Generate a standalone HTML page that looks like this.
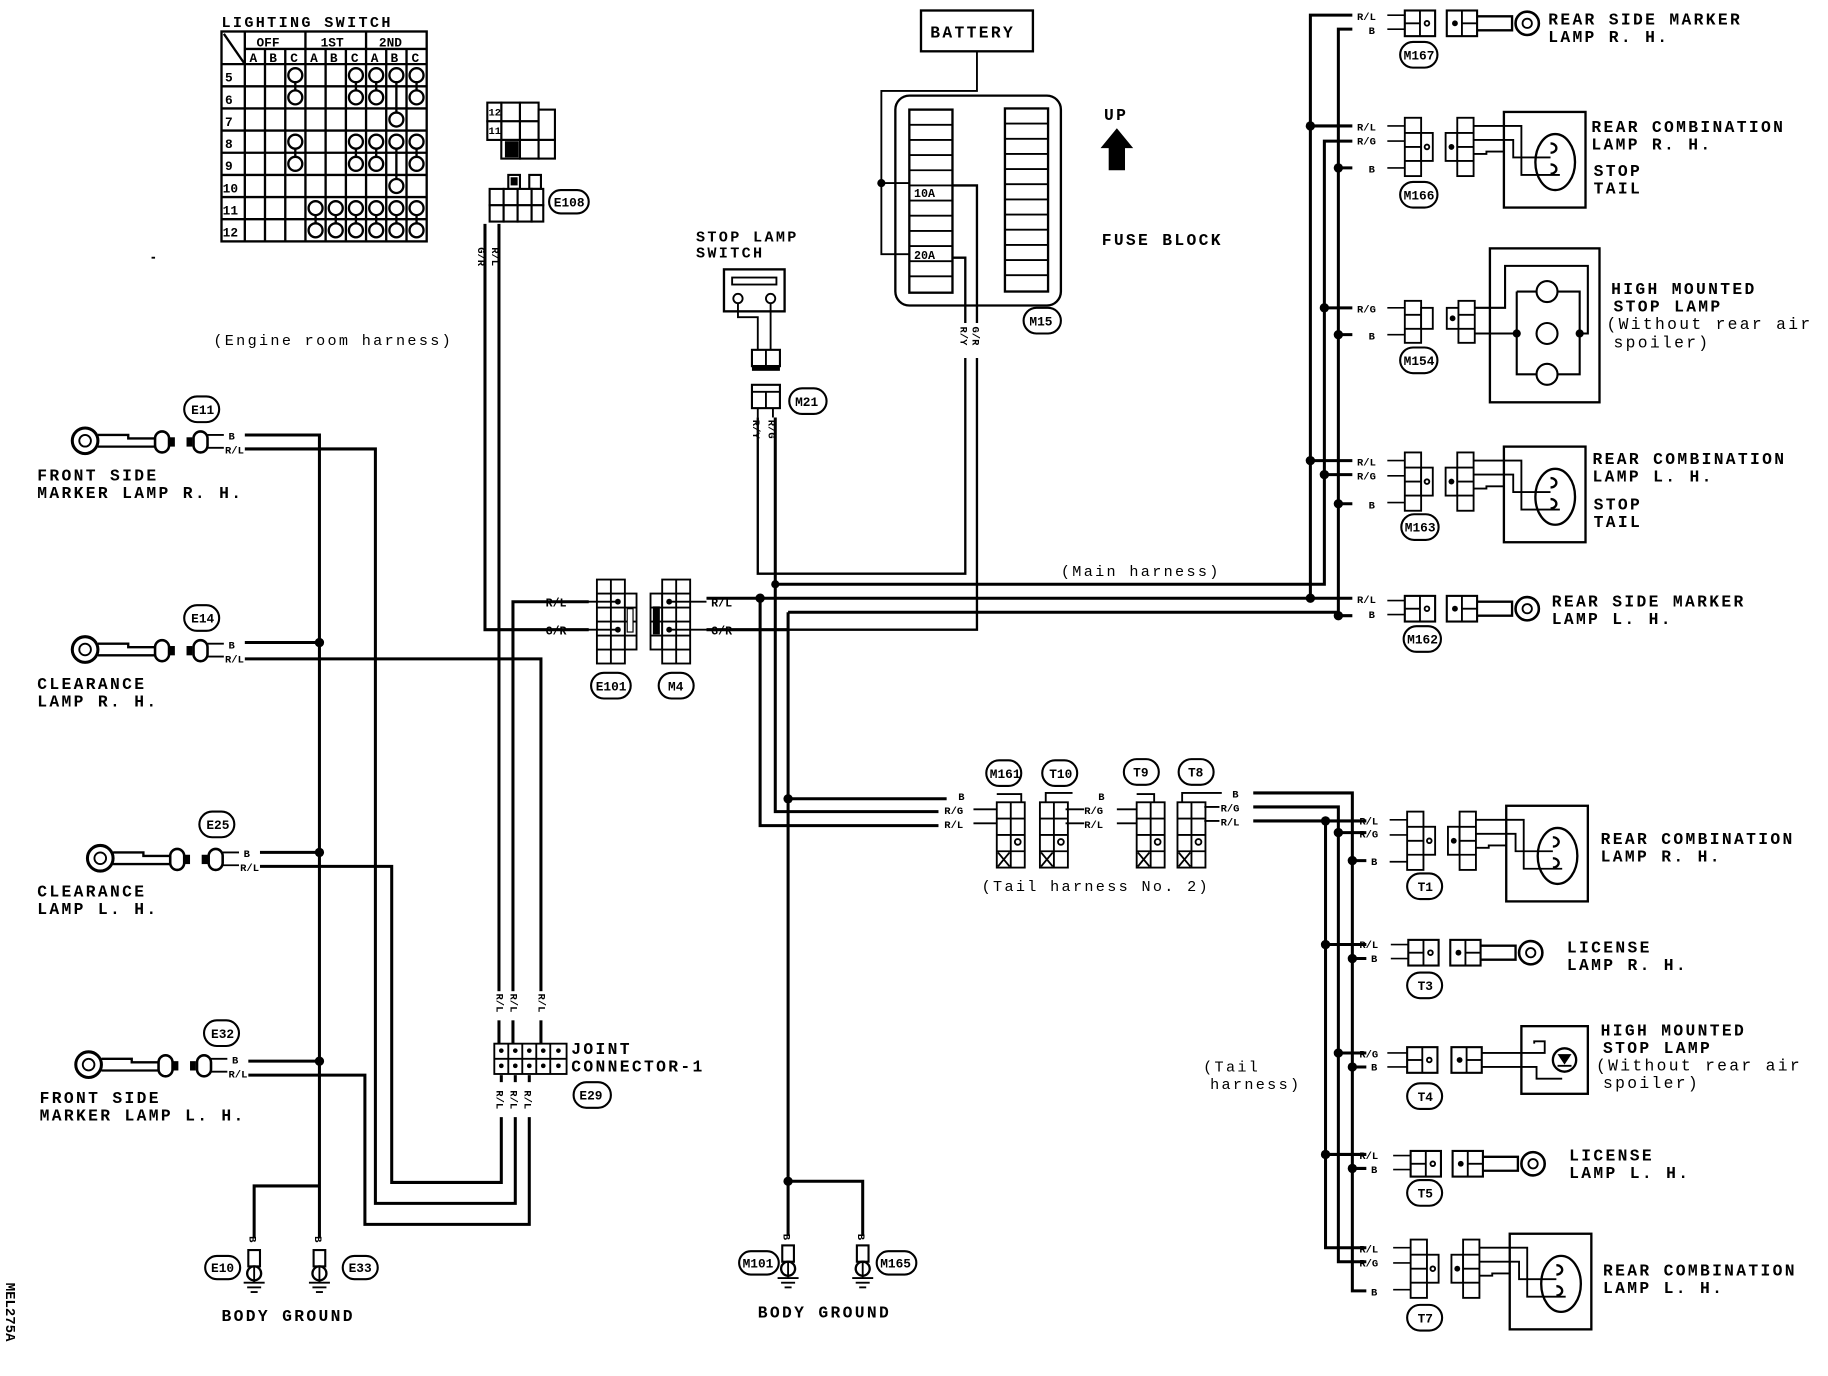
<!DOCTYPE html>
<html><head><meta charset="utf-8"><style>
html,body{margin:0;padding:0;background:#fff}
svg{display:block}
text{font-family:"Liberation Mono",monospace;fill:#000}
.w{stroke:#000;stroke-width:2.6;fill:none}
.t{stroke:#000;stroke-width:1.6;fill:none}
.f{fill:#fff;stroke:#000;stroke-width:1.8}
.L{font-size:15px;letter-spacing:2px;font-weight:bold}
.s{font-size:9px;font-weight:bold}
.g{font-size:11px;font-weight:bold}
</style></head><body>
<svg width="1828" height="1376" viewBox="0 0 1568 1180" preserveAspectRatio="none" xmlns="http://www.w3.org/2000/svg">
<rect width="1568" height="1180" fill="#fff"/>

<!-- LIGHTING SWITCH -->
<text x="190" y="23" class="L" style="font-size:13px">LIGHTING SWITCH</text>
<g class="w" style="stroke-width:2">
<rect x="190" y="27" width="176" height="180"/>
<line x1="210" y1="27" x2="210" y2="207"/>
<line x1="210" y1="42" x2="366" y2="42"/>
<line x1="190" y1="55" x2="366" y2="55"/>
<line x1="192" y1="29" x2="210" y2="55"/>
<line x1="262" y1="27" x2="262" y2="207"/><line x1="314" y1="27" x2="314" y2="207"/>
<line x1="227.3" y1="42" x2="227.3" y2="207"/><line x1="244.7" y1="42" x2="244.7" y2="207"/>
<line x1="279.3" y1="42" x2="279.3" y2="207"/><line x1="296.7" y1="42" x2="296.7" y2="207"/>
<line x1="331.3" y1="42" x2="331.3" y2="207"/><line x1="348.7" y1="42" x2="348.7" y2="207"/>
<line x1="190" y1="74" x2="366" y2="74"/><line x1="190" y1="93" x2="366" y2="93"/>
<line x1="190" y1="112" x2="366" y2="112"/><line x1="190" y1="131" x2="366" y2="131"/>
<line x1="190" y1="150" x2="366" y2="150"/><line x1="190" y1="169" x2="366" y2="169"/>
<line x1="190" y1="188" x2="366" y2="188"/>
</g>
<g class="s" style="font-size:11px">
<text x="220" y="40">OFF</text><text x="275" y="40">1ST</text><text x="325" y="40">2ND</text>
<text x="214" y="53">A</text><text x="231" y="53">B</text><text x="249" y="53">C</text><text x="266" y="53">A</text><text x="283" y="53">B</text><text x="301" y="53">C</text><text x="318" y="53">A</text><text x="335" y="53">B</text><text x="353" y="53">C</text>
<text x="193" y="70">5</text><text x="193" y="89">6</text><text x="193" y="108">7</text><text x="193" y="127">8</text><text x="193" y="146">9</text><text x="191" y="165">10</text><text x="191" y="184">11</text><text x="191" y="203">12</text>
</g>
<g class="w" style="stroke-width:2">
<line x1="253.3" y1="64" x2="253.3" y2="84"/><line x1="305.3" y1="64" x2="305.3" y2="84"/><line x1="322.7" y1="64" x2="322.7" y2="84"/><line x1="357.3" y1="64" x2="357.3" y2="84"/><line x1="340" y1="64" x2="340" y2="102"/>
<line x1="253.3" y1="121" x2="253.3" y2="141"/><line x1="305.3" y1="121" x2="305.3" y2="141"/><line x1="322.7" y1="121" x2="322.7" y2="141"/><line x1="357.3" y1="121" x2="357.3" y2="141"/><line x1="340" y1="121" x2="340" y2="159"/>
<line x1="270.7" y1="178" x2="270.7" y2="198"/><line x1="288" y1="178" x2="288" y2="198"/><line x1="305.3" y1="178" x2="305.3" y2="198"/><line x1="322.7" y1="178" x2="322.7" y2="198"/><line x1="340" y1="178" x2="340" y2="198"/><line x1="357.3" y1="178" x2="357.3" y2="198"/>
</g>
<g class="f" style="stroke-width:2">
<circle cx="253.3" cy="64.5" r="6"/><circle cx="305.3" cy="64.5" r="6"/><circle cx="322.7" cy="64.5" r="6"/><circle cx="340" cy="64.5" r="6"/><circle cx="357.3" cy="64.5" r="6"/>
<circle cx="253.3" cy="83.5" r="6"/><circle cx="305.3" cy="83.5" r="6"/><circle cx="322.7" cy="83.5" r="6"/><circle cx="357.3" cy="83.5" r="6"/>
<circle cx="340" cy="102.5" r="6"/>
<circle cx="253.3" cy="121.5" r="6"/><circle cx="305.3" cy="121.5" r="6"/><circle cx="322.7" cy="121.5" r="6"/><circle cx="340" cy="121.5" r="6"/><circle cx="357.3" cy="121.5" r="6"/>
<circle cx="253.3" cy="140.5" r="6"/><circle cx="305.3" cy="140.5" r="6"/><circle cx="322.7" cy="140.5" r="6"/><circle cx="357.3" cy="140.5" r="6"/>
<circle cx="340" cy="159.5" r="6"/>
<circle cx="270.7" cy="178.5" r="6"/><circle cx="288" cy="178.5" r="6"/><circle cx="305.3" cy="178.5" r="6"/><circle cx="322.7" cy="178.5" r="6"/><circle cx="340" cy="178.5" r="6"/><circle cx="357.3" cy="178.5" r="6"/>
<circle cx="270.7" cy="197.5" r="6"/><circle cx="288" cy="197.5" r="6"/><circle cx="305.3" cy="197.5" r="6"/><circle cx="322.7" cy="197.5" r="6"/><circle cx="340" cy="197.5" r="6"/><circle cx="357.3" cy="197.5" r="6"/>
</g>
<line x1="130" y1="221" x2="133" y2="221" class="t"/>

<!-- E108 connectors -->
<g class="f">
<rect x="430" y="88" width="16" height="16"/><rect x="446" y="88" width="16" height="16"/>
<rect x="430" y="104" width="16" height="16"/><rect x="446" y="104" width="16" height="16"/><rect x="462" y="94" width="14" height="26"/>
<rect x="430" y="120" width="16" height="16"/><rect x="446" y="120" width="16" height="16"/><rect x="462" y="120" width="14" height="16"/>
<rect x="418" y="88" width="12" height="16"/><rect x="418" y="104" width="12" height="16"/>
<rect x="434" y="122" width="10" height="12" style="fill:#000"/>
<rect x="436" y="150" width="10" height="12"/><rect x="454" y="150" width="10" height="12"/>
<rect x="420" y="162" width="12" height="14"/><rect x="432" y="162" width="12" height="14"/><rect x="444" y="162" width="12" height="14"/><rect x="456" y="162" width="10" height="14"/>
<rect x="420" y="176" width="12" height="14"/><rect x="432" y="176" width="12" height="14"/><rect x="444" y="176" width="12" height="14"/><rect x="456" y="176" width="10" height="14"/>
</g>
<rect x="438" y="152" width="6" height="7" fill="#000"/>
<text x="419" y="99" class="s">12</text><text x="419" y="115" class="s">11</text>
<rect x="471" y="163" width="34" height="20" rx="10" class="f"/><text x="475" y="177" class="g">E108</text>
<text class="s" transform="translate(410,212) rotate(90)">G/R</text>
<text class="s" transform="translate(422,212) rotate(90)">R/L</text>

<text x="183" y="296" class="L" style="font-size:13px;font-weight:normal">(Engine room harness)</text>

<!-- Left lamps -->
<g id="lamp1">
<circle cx="73" cy="378" r="11" class="w"/><circle cx="73" cy="378" r="5" class="t"/>
<path d="M84 373 H110 V376 H135 V383 H84" class="w" style="stroke-width:2"/>
<rect x="133" y="370" width="12" height="18" rx="6" class="f" style="stroke-width:2.2"/><rect x="145" y="375" width="5" height="8" fill="#000"/>
<rect x="160" y="375" width="5" height="8" fill="#000"/><rect x="166" y="370" width="12" height="18" rx="6" class="f" style="stroke-width:2.2"/>
<line x1="178" y1="373" x2="192" y2="373" class="t"/><line x1="178" y1="384" x2="192" y2="384" class="t"/>
<text x="196" y="377" class="s">B</text><text x="193" y="389" class="s">R/L</text>
</g>
<use href="#lamp1" y="179"/>
<use href="#lamp1" x="13" y="358"/>
<use href="#lamp1" x="3" y="535"/>
<rect x="158" y="340" width="30" height="22" rx="11" class="f"/><text x="164" y="355" class="g">E11</text>
<rect x="158" y="519" width="30" height="22" rx="11" class="f"/><text x="164" y="534" class="g">E14</text>
<rect x="171" y="696" width="30" height="22" rx="11" class="f"/><text x="177" y="711" class="g">E25</text>
<rect x="175" y="875" width="30" height="22" rx="11" class="f"/><text x="181" y="890" class="g">E32</text>
<g class="L" style="font-size:14px">
<text x="32" y="412">FRONT SIDE</text><text x="32" y="427">MARKER LAMP R. H.</text>
<text x="32" y="591">CLEARANCE</text><text x="32" y="606">LAMP R. H.</text>
<text x="32" y="769">CLEARANCE</text><text x="32" y="784">LAMP L. H.</text>
<text x="34" y="946">FRONT SIDE</text><text x="34" y="961">MARKER LAMP L. H.</text>
</g>

<!-- Left wiring -->
<g class="w">
<path d="M210 373 H274 V1062"/>
<path d="M210 551 H274"/><path d="M223 731 H274"/><path d="M213 910 H274"/>
<path d="M274 1017 H218 V1062"/>
<path d="M210 385 H322 V1032 H442 V922"/>
<path d="M210 565 H464 V895"/>
<path d="M223 743 H336 V1014 H430 V922"/>
<path d="M213 922 H313 V1050 H454 V922"/>
<path d="M416 192 V540 H505"/>
<path d="M428 192 V895"/>
<path d="M505 516 H440 V895"/>
</g>
<g fill="#000"><circle cx="274" cy="551" r="4"/><circle cx="274" cy="731" r="4"/><circle cx="274" cy="910" r="4"/></g>

<!-- grounds left -->
<g id="gnd1">
<rect x="213" y="1072" width="10" height="14" class="f"/>
<circle cx="218" cy="1092" r="6" class="w" style="stroke-width:2"/>
<line x1="218" y1="1086" x2="218" y2="1100" class="t"/>
<line x1="209" y1="1100" x2="227" y2="1100" class="t"/><line x1="212" y1="1104" x2="224" y2="1104" class="t"/><line x1="215" y1="1108" x2="221" y2="1108" class="t"/>
</g>
<use href="#gnd1" x="56"/>
<text class="s" transform="translate(214,1060) rotate(90)">B</text>
<text class="s" transform="translate(270,1060) rotate(90)">B</text>
<rect x="176" y="1077" width="30" height="20" rx="10" class="f"/><text x="181" y="1091" class="g">E10</text>
<rect x="294" y="1077" width="30" height="20" rx="10" class="f"/><text x="299" y="1091" class="g">E33</text>
<text x="190" y="1133" class="L" style="font-size:14px">BODY GROUND</text>

<!-- Joint connector -->
<g class="f" style="stroke-width:1.6">
<rect x="424" y="895" width="62" height="26"/>
</g>
<g class="t">
<line x1="424" y1="908" x2="486" y2="908"/>
<line x1="436" y1="895" x2="436" y2="921"/><line x1="448" y1="895" x2="448" y2="921"/><line x1="460" y1="895" x2="460" y2="921"/><line x1="472" y1="895" x2="472" y2="921"/>
</g>
<g fill="#000">
<circle cx="430" cy="901" r="2"/><circle cx="442" cy="901" r="2"/><circle cx="454" cy="901" r="2"/><circle cx="466" cy="901" r="2"/><circle cx="479" cy="901" r="2"/>
<circle cx="430" cy="914" r="2"/><circle cx="442" cy="914" r="2"/><circle cx="454" cy="914" r="2"/><circle cx="466" cy="914" r="2"/><circle cx="479" cy="914" r="2"/>
</g>
<rect x="424" y="850" width="36" height="25" fill="#fff"/><rect x="460" y="850" width="12" height="25" fill="#fff"/>
<rect x="424" y="928" width="36" height="30" fill="#fff"/>
<text class="s" transform="translate(426,852) rotate(90)">R/L</text><text class="s" transform="translate(438,852) rotate(90)">R/L</text><text class="s" transform="translate(462,852) rotate(90)">R/L</text>
<text class="s" transform="translate(426,935) rotate(90)">R/L</text><text class="s" transform="translate(438,935) rotate(90)">R/L</text><text class="s" transform="translate(450,935) rotate(90)">R/L</text>
<text x="490" y="904" class="L" style="font-size:14px">JOINT</text><text x="490" y="919" class="L" style="font-size:14px">CONNECTOR-1</text>
<rect x="492" y="928" width="32" height="22" rx="11" class="f"/><text x="497" y="943" class="g">E29</text>

<!-- E101 / M4 -->
<g class="f" style="stroke-width:1.6">
<rect x="512" y="497" width="24" height="72"/><rect x="536" y="509" width="10" height="48"/>
<rect x="558" y="509" width="10" height="48"/><rect x="568" y="497" width="24" height="72"/>
</g>
<g class="t">
<line x1="524" y1="497" x2="524" y2="569"/><line x1="512" y1="509" x2="536" y2="509"/><line x1="512" y1="521" x2="546" y2="521"/><line x1="512" y1="533" x2="546" y2="533"/><line x1="512" y1="545" x2="546" y2="545"/><line x1="512" y1="557" x2="536" y2="557"/>
<line x1="580" y1="497" x2="580" y2="569"/><line x1="558" y1="521" x2="592" y2="521"/><line x1="558" y1="533" x2="592" y2="533"/><line x1="558" y1="545" x2="592" y2="545"/><line x1="568" y1="509" x2="592" y2="509"/><line x1="568" y1="557" x2="592" y2="557"/>
</g>
<rect x="538" y="522" width="5" height="20" fill="#fff" stroke="#000"/><rect x="560" y="520" width="6" height="24" fill="#000"/>
<g fill="#000"><circle cx="530" cy="516" r="2.5"/><circle cx="530" cy="540" r="2.5"/><circle cx="574" cy="516" r="2.5"/><circle cx="574" cy="540" r="2.5"/></g>
<g class="t"><line x1="500" y1="516" x2="530" y2="516"/><line x1="500" y1="540" x2="530" y2="540"/><line x1="574" y1="516" x2="606" y2="516"/><line x1="574" y1="540" x2="606" y2="540"/></g>
<text x="468" y="520" class="s" style="font-size:10px">R/L</text><text x="468" y="544" class="s" style="font-size:10px">G/R</text>
<text x="610" y="520" class="s" style="font-size:10px">R/L</text><text x="610" y="544" class="s" style="font-size:10px">G/R</text>
<rect x="507" y="577" width="34" height="22" rx="11" class="f"/><text x="511" y="592" class="g">E101</text>
<rect x="565" y="577" width="30" height="22" rx="11" class="f"/><text x="573" y="592" class="g">M4</text>

<!-- Stop lamp switch -->
<text x="597" y="207" class="L" style="font-size:13px">STOP LAMP</text><text x="597" y="221" class="L" style="font-size:13px">SWITCH</text>
<rect x="621" y="231" width="52" height="36" class="w" style="stroke-width:2"/>
<rect x="628" y="238" width="38" height="6" class="t"/>
<circle cx="633" cy="256" r="4" class="t"/><circle cx="661" cy="256" r="4" class="t"/>
<path d="M633 260 V272 H650 V300 M661 260 V300" class="t"/>
<rect x="645" y="300" width="24" height="14" class="f"/><line x1="657" y1="300" x2="657" y2="314" class="t"/><rect x="645" y="313" width="24" height="5" fill="#000"/>
<rect x="645" y="330" width="24" height="20" class="f"/><line x1="645" y1="336" x2="669" y2="336" class="t"/><line x1="657" y1="336" x2="657" y2="350" class="t"/>
<line x1="650" y1="350" x2="650" y2="358" class="t"/><line x1="663" y1="350" x2="663" y2="358" class="t"/>
<rect x="677" y="333" width="32" height="22" rx="11" class="f"/><text x="682" y="348" class="g">M21</text>
<text class="s" transform="translate(646,360) rotate(90)">R/Y</text><text class="s" transform="translate(659,360) rotate(90)">R/G</text>

<!-- Fuse block -->
<rect x="790" y="9" width="96" height="35" class="w" style="stroke-width:2"/><text x="798" y="32" class="L" style="font-size:14px">BATTERY</text>
<path d="M838 44 V78 H756 V218 H780 M756 157 H780" class="t"/>
<circle cx="756" cy="157" r="3.5" fill="#000"/>
<rect x="768" y="82" width="142" height="180" rx="12" class="w" style="stroke-width:2"/>
<rect x="780" y="94" width="37" height="157" class="w" style="stroke-width:2"/>
<rect x="862" y="93" width="37" height="157" class="w" style="stroke-width:2"/>
<g class="t">
<line x1="780" y1="107" x2="817" y2="107"/><line x1="780" y1="120" x2="817" y2="120"/><line x1="780" y1="133" x2="817" y2="133"/><line x1="780" y1="146" x2="817" y2="146"/><line x1="780" y1="159" x2="817" y2="159"/><line x1="780" y1="172" x2="817" y2="172"/><line x1="780" y1="185" x2="817" y2="185"/><line x1="780" y1="198" x2="817" y2="198"/><line x1="780" y1="211" x2="817" y2="211"/><line x1="780" y1="224" x2="817" y2="224"/><line x1="780" y1="237" x2="817" y2="237"/>
<line x1="862" y1="106" x2="899" y2="106"/><line x1="862" y1="119" x2="899" y2="119"/><line x1="862" y1="132" x2="899" y2="132"/><line x1="862" y1="145" x2="899" y2="145"/><line x1="862" y1="158" x2="899" y2="158"/><line x1="862" y1="171" x2="899" y2="171"/><line x1="862" y1="184" x2="899" y2="184"/><line x1="862" y1="197" x2="899" y2="197"/><line x1="862" y1="210" x2="899" y2="210"/><line x1="862" y1="223" x2="899" y2="223"/><line x1="862" y1="236" x2="899" y2="236"/>
</g>
<text x="784" y="169" class="s" style="font-size:10px">10A</text><text x="784" y="222" class="s" style="font-size:10px">20A</text>
<path d="M817 159 H838 V540 H676 M817 221 H828 V492 H650 V358" class="t" style="stroke-width:2"/>
<rect x="822" y="277" width="22" height="30" fill="#fff"/>
<text class="s" transform="translate(834,280) rotate(90)">G/R</text><text class="s" transform="translate(824,280) rotate(90)">R/Y</text>
<rect x="878" y="264" width="32" height="22" rx="11" class="f"/><text x="883" y="279" class="g">M15</text>
<text x="947" y="103" class="L" style="font-size:14px">UP</text>
<path d="M958 110 L972 127 H965 V146 H951 V127 H944 Z" fill="#000"/>
<text x="945" y="210" class="L" style="font-size:14px">FUSE BLOCK</text>

<!-- Main harness -->
<text x="910" y="494" class="L" style="font-size:13px;font-weight:normal">(Main harness)</text>
<g class="w">
<path d="M606 513 H1160"/>
<path d="M665 358 V501 H1136 V121 H1160"/>
<path d="M606 540 H676"/>
<path d="M676 525 H1148 V25 H1160"/>
<path d="M1124 513 V13 H1160"/>
<path d="M1124 108 H1160 M1124 395 H1160 M1136 264 H1160 M1136 407 H1160 M1148 144 H1160 M1148 287 H1160 M1148 432 H1160 M1148 528 H1160"/>
<path d="M652 513 V708 H805"/>
<path d="M665 501 V696 H805"/>
<path d="M676 525 V1060 M676 685 H812 M676 1013 H740 V1060"/>
</g>
<g fill="#000"><circle cx="652" cy="513" r="4"/><circle cx="665" cy="501" r="3.5"/><circle cx="676" cy="685" r="4"/><circle cx="676" cy="1013" r="4"/>
<circle cx="1124" cy="108" r="4"/><circle cx="1124" cy="395" r="4"/><circle cx="1124" cy="513" r="4"/><circle cx="1136" cy="264" r="4"/><circle cx="1136" cy="407" r="4"/><circle cx="1148" cy="144" r="4"/><circle cx="1148" cy="287" r="4"/><circle cx="1148" cy="432" r="4"/><circle cx="1148" cy="528" r="4"/></g>

<!-- grounds middle -->
<use href="#gnd1" x="458" y="-4"/><use href="#gnd1" x="522" y="-4"/>
<text class="s" transform="translate(672,1058) rotate(90)">B</text><text class="s" transform="translate(736,1058) rotate(90)">B</text>
<rect x="634" y="1073" width="34" height="20" rx="10" class="f"/><text x="637" y="1087" class="g">M101</text>
<rect x="752" y="1073" width="34" height="20" rx="10" class="f"/><text x="755" y="1087" class="g">M165</text>
<text x="650" y="1130" class="L" style="font-size:14px">BODY GROUND</text>

<!-- tail harness no 2 connectors -->
<text x="822" y="686" class="s">B</text><text x="810" y="698" class="s">R/G</text><text x="810" y="710" class="s">R/L</text>
<g id="tc">
<rect x="855" y="688" width="24" height="56" class="f" style="stroke-width:1.6"/>
<line x1="867" y1="688" x2="867" y2="744" class="t"/><line x1="855" y1="702" x2="879" y2="702" class="t"/><line x1="855" y1="716" x2="879" y2="716" class="t"/><line x1="855" y1="730" x2="879" y2="730" class="t"/>
<path d="M856 731 L866 743 M866 731 L856 743" class="t"/><circle cx="873" cy="722" r="2.5" class="t"/>
</g>
<use href="#tc" x="37"/><use href="#tc" x="120"/><use href="#tc" x="155"/>
<path d="M835 694 H855 M835 706 H855 M855 681 H876 V688" class="t"/>
<path d="M914 694 H930 M914 706 H930 M897 688 V680 H920" class="t"/>
<path d="M958 694 H975 M958 706 H975 M975 681 H990 V688" class="t"/>
<path d="M1033 692 H1046 M1033 704 H1046 M1014 688 V680 H1048" class="t"/>
<text x="930" y="698" class="s">R/G</text><text x="930" y="710" class="s">R/L</text><text x="942" y="686" class="s">B</text>
<text x="1057" y="684" class="s">B</text><text x="1047" y="696" class="s">R/G</text><text x="1047" y="708" class="s">R/L</text>
<rect x="846" y="652" width="30" height="22" rx="11" class="f"/><text x="849" y="667" class="g">M161</text>
<rect x="894" y="652" width="30" height="22" rx="11" class="f"/><text x="900" y="667" class="g">T10</text>
<rect x="964" y="651" width="30" height="22" rx="11" class="f"/><text x="972" y="666" class="g">T9</text>
<rect x="1011" y="651" width="30" height="22" rx="11" class="f"/><text x="1019" y="666" class="g">T8</text>
<text x="842" y="764" class="L" style="font-size:13px;font-weight:normal">(Tail harness No. 2)</text>

<!-- tail harness right -->
<g class="w">
<path d="M1075 680 H1160 V1107 H1172"/>
<path d="M1075 692 H1148 V1082 H1172"/>
<path d="M1075 704 H1137 V1070 H1172"/>
<path d="M1137 704 H1172 M1148 714 H1172 M1160 738 H1172 M1137 810 H1172 M1160 822 H1172 M1148 903 H1172 M1160 915 H1172 M1137 990 H1172 M1160 1002 H1172"/>
</g>
<g fill="#000"><circle cx="1137" cy="704" r="4"/><circle cx="1148" cy="714" r="4"/><circle cx="1160" cy="738" r="4"/><circle cx="1137" cy="810" r="4"/><circle cx="1160" cy="822" r="4"/><circle cx="1148" cy="903" r="4"/><circle cx="1160" cy="915" r="4"/><circle cx="1137" cy="990" r="4"/><circle cx="1160" cy="1002" r="4"/></g>
<text x="1032" y="919" class="L" style="font-size:13px;font-weight:normal">(Tail</text><text x="1038" y="934" class="L" style="font-size:13px;font-weight:normal">harness)</text>

<!-- Combination lamp symbol (3 wire) -->
<g id="comb">
<g class="t" style="stroke-width:1.4"><line x1="1190" y1="108" x2="1205" y2="108"/><line x1="1190" y1="121" x2="1205" y2="121"/><line x1="1190" y1="144" x2="1205" y2="144"/></g>
<rect x="1205" y="101" width="14" height="50" class="f" style="stroke-width:1.6"/>
<line x1="1205" y1="114" x2="1219" y2="114" class="t"/><line x1="1205" y1="126" x2="1219" y2="126" class="t"/><line x1="1205" y1="138" x2="1219" y2="138" class="t"/>
<rect x="1219" y="114" width="10" height="24" class="f" style="stroke-width:1.6"/><circle cx="1224" cy="126" r="2" class="t"/>
<rect x="1240" y="114" width="10" height="24" class="f" style="stroke-width:1.6"/><circle cx="1245" cy="126" r="2.5" fill="#000"/>
<rect x="1250" y="101" width="14" height="50" class="f" style="stroke-width:1.6"/>
<line x1="1250" y1="114" x2="1264" y2="114" class="t"/><line x1="1250" y1="126" x2="1264" y2="126" class="t"/><line x1="1250" y1="138" x2="1264" y2="138" class="t"/>
<rect x="1290" y="96" width="70" height="82" class="w" style="stroke-width:2"/>
<ellipse cx="1334" cy="139" rx="17" ry="24" class="w" style="stroke-width:2"/>
<path d="M1264 108 H1305 V150 H1338 M1264 120 H1298 V135 H1330 M1264 132 H1275 V130 H1290" class="t"/>
<path d="M1330 123 a5 4 0 1 1 0 8 M1330 141 a5 4 0 1 1 0 8" class="t" style="stroke-width:2"/>
</g>
<use href="#comb" y="287"/>
<use href="#comb" x="2" y="595"/>
<use href="#comb" x="5" y="962"/>
<!-- 2-wire marker lamps -->
<g id="mk">
<g class="t" style="stroke-width:1.4"><line x1="1190" y1="13" x2="1205" y2="13"/><line x1="1190" y1="25" x2="1205" y2="25"/></g>
<rect x="1205" y="9" width="26" height="22" class="f" style="stroke-width:1.8"/><line x1="1218" y1="9" x2="1218" y2="31" class="t"/><line x1="1205" y1="20" x2="1218" y2="20" class="t"/><circle cx="1224" cy="20" r="2" class="t"/>
<rect x="1241" y="9" width="26" height="22" class="f" style="stroke-width:1.8"/><line x1="1254" y1="9" x2="1254" y2="31" class="t"/><line x1="1254" y1="20" x2="1267" y2="20" class="t"/><circle cx="1248" cy="20" r="2.5" fill="#000"/>
<path d="M1267 14 H1297 V26 H1267" class="t" style="stroke-width:2"/>
<circle cx="1310" cy="20" r="10" class="w" style="stroke-width:2.2"/><circle cx="1310" cy="20" r="4" class="t"/>
</g>
<use href="#mk" y="502"/>
<use href="#mk" x="3" y="797"/>
<use href="#mk" x="5" y="978"/>
<!-- high mount 3 bulbs -->
<g class="t" style="stroke-width:1.4"><line x1="1190" y1="264" x2="1205" y2="264"/><line x1="1190" y1="287" x2="1205" y2="287"/></g>
<rect x="1205" y="258" width="14" height="36" class="f" style="stroke-width:1.6"/><line x1="1205" y1="270" x2="1219" y2="270" class="t"/><line x1="1205" y1="282" x2="1219" y2="282" class="t"/>
<rect x="1219" y="264" width="10" height="18" class="f" style="stroke-width:1.6"/>
<rect x="1241" y="264" width="10" height="18" class="f" style="stroke-width:1.6"/><circle cx="1246" cy="273" r="2.5" fill="#000"/>
<rect x="1251" y="258" width="14" height="36" class="f" style="stroke-width:1.6"/><line x1="1251" y1="270" x2="1265" y2="270" class="t"/><line x1="1251" y1="282" x2="1265" y2="282" class="t"/>
<rect x="1278" y="213" width="94" height="132" class="w" style="stroke-width:2"/>
<path d="M1265 264 H1291 V228 H1362 V286 H1355 M1265 286 H1301 M1301 250 V321 H1355 V250 H1301" class="t" style="stroke-width:1.8"/>
<g class="f" style="stroke-width:1.8"><circle cx="1327" cy="250" r="9"/><circle cx="1327" cy="286" r="9"/><circle cx="1327" cy="321" r="9"/></g>
<g fill="#000"><circle cx="1301" cy="286" r="3.5"/><circle cx="1355" cy="286" r="3.5"/></g>
<!-- high mount T4 -->
<g class="t" style="stroke-width:1.4"><line x1="1190" y1="903" x2="1207" y2="903"/><line x1="1190" y1="915" x2="1207" y2="915"/></g>
<rect x="1207" y="898" width="26" height="22" class="f" style="stroke-width:1.8"/><line x1="1220" y1="898" x2="1220" y2="920" class="t"/><line x1="1207" y1="909" x2="1220" y2="909" class="t"/><circle cx="1226" cy="909" r="2" class="t"/>
<rect x="1245" y="898" width="26" height="22" class="f" style="stroke-width:1.8"/><line x1="1258" y1="898" x2="1258" y2="920" class="t"/><line x1="1258" y1="909" x2="1271" y2="909" class="t"/><circle cx="1252" cy="909" r="2.5" fill="#000"/>
<rect x="1305" y="880" width="57" height="58" class="w" style="stroke-width:2"/>
<path d="M1271 903 H1325 V893 H1316 V895 M1271 915 H1318 V925 H1340" class="t"/>
<circle cx="1342" cy="909" r="10" class="w" style="stroke-width:2"/><path d="M1336 904 H1348 L1342 913 Z" fill="#000"/><line x1="1336" y1="914" x2="1348" y2="914" class="t"/>

<!-- row labels right -->
<g class="s">
<text x="1164" y="17">R/L</text><text x="1174" y="29">B</text>
<text x="1164" y="112">R/L</text><text x="1164" y="124">R/G</text><text x="1174" y="148">B</text>
<text x="1164" y="268">R/G</text><text x="1174" y="291">B</text>
<text x="1164" y="399">R/L</text><text x="1164" y="411">R/G</text><text x="1174" y="436">B</text>
<text x="1164" y="517">R/L</text><text x="1174" y="530">B</text>
<text x="1166" y="707">R/L</text><text x="1166" y="718">R/G</text><text x="1176" y="742">B</text>
<text x="1166" y="813">R/L</text><text x="1176" y="825">B</text>
<text x="1166" y="907">R/G</text><text x="1176" y="918">B</text>
<text x="1166" y="994">R/L</text><text x="1176" y="1006">B</text>
<text x="1166" y="1074">R/L</text><text x="1166" y="1086">R/G</text><text x="1176" y="1111">B</text>
</g>
<!-- tags right -->
<g class="f"><rect x="1201" y="36" width="32" height="22" rx="11"/><rect x="1201" y="156" width="32" height="22" rx="11"/><rect x="1201" y="298" width="32" height="22" rx="11"/><rect x="1202" y="441" width="32" height="22" rx="11"/><rect x="1204" y="537" width="32" height="22" rx="11"/>
<rect x="1207" y="749" width="30" height="22" rx="11"/><rect x="1207" y="834" width="30" height="22" rx="11"/><rect x="1207" y="929" width="30" height="22" rx="11"/><rect x="1207" y="1012" width="30" height="22" rx="11"/><rect x="1207" y="1119" width="30" height="22" rx="11"/></g>
<g class="g"><text x="1204" y="51">M167</text><text x="1204" y="171">M166</text><text x="1204" y="313">M154</text><text x="1205" y="456">M163</text><text x="1207" y="552">M162</text>
<text x="1216" y="764">T1</text><text x="1216" y="849">T3</text><text x="1216" y="944">T4</text><text x="1216" y="1027">T5</text><text x="1216" y="1134">T7</text></g>

<g class="L" style="font-size:14px">
<text x="1328" y="21">REAR SIDE MARKER</text><text x="1328" y="36">LAMP R. H.</text>
<text x="1365" y="113">REAR COMBINATION</text><text x="1365" y="128">LAMP R. H.</text><text x="1367" y="151">STOP</text><text x="1367" y="166">TAIL</text>
<text x="1382" y="252">HIGH MOUNTED</text><text x="1384" y="267">STOP LAMP</text><text x="1378" y="282" style="font-weight:normal">(Without rear air</text><text x="1384" y="298" style="font-weight:normal">spoiler)</text>
<text x="1366" y="398">REAR COMBINATION</text><text x="1366" y="413">LAMP L. H.</text><text x="1367" y="437">STOP</text><text x="1367" y="452">TAIL</text>
<text x="1331" y="520">REAR SIDE MARKER</text><text x="1331" y="535">LAMP L. H.</text>
<text x="1373" y="724">REAR COMBINATION</text><text x="1373" y="739">LAMP R. H.</text>
<text x="1344" y="817">LICENSE</text><text x="1344" y="832">LAMP R. H.</text>
<text x="1373" y="888">HIGH MOUNTED</text><text x="1375" y="903">STOP LAMP</text><text x="1369" y="918" style="font-weight:normal">(Without rear air</text><text x="1375" y="933" style="font-weight:normal">spoiler)</text>
<text x="1346" y="995">LICENSE</text><text x="1346" y="1010">LAMP L. H.</text>
<text x="1375" y="1094">REAR COMBINATION</text><text x="1375" y="1109">LAMP L. H.</text>
</g>
<text class="L" style="font-size:12px;letter-spacing:0" transform="translate(5,1100) rotate(90)">MEL275A</text>
</svg>
</body></html>
